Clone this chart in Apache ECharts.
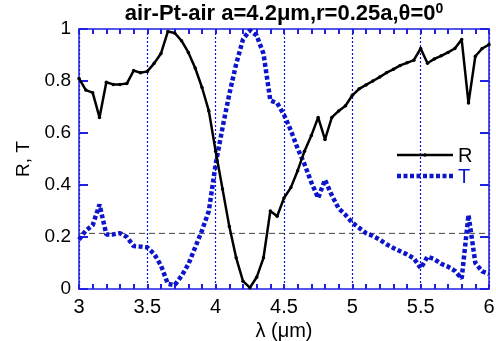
<!DOCTYPE html>
<html><head><meta charset="utf-8">
<script src="https://cdn.jsdelivr.net/npm/echarts@6/dist/echarts.min.js"></script>
<style>html,body{margin:0;padding:0;background:#fff}#c{width:496px;height:341px}</style>
</head><body><div id="c"></div>
<script>
const wavelength = [3.00,3.05,3.10,3.15,3.20,3.25,3.30,3.35,3.40,3.45,3.50,3.55,3.60,3.65,3.70,3.75,3.80,3.85,3.90,3.95,
4.00,4.05,4.10,4.15,4.20,4.25,4.30,4.35,4.40,4.45,4.50,4.55,4.60,4.65,4.70,4.75,4.80,4.85,4.90,4.95,
5.00,5.05,5.10,5.15,5.20,5.25,5.30,5.35,5.40,5.45,5.50,5.55,5.60,5.65,5.70,5.75,5.80,5.85,5.90,5.95,6.00];
const reflectance = [0.81,0.765,0.755,0.66,0.795,0.787,0.787,0.79,0.84,0.832,0.837,0.868,0.906,0.99,0.985,0.955,0.91,0.85,0.775,0.685,
0.53,0.385,0.24,0.12,0.03,0.005,0.045,0.12,0.30,0.28,0.35,0.39,0.455,0.53,0.59,0.66,0.575,0.66,0.685,0.705,
0.745,0.77,0.785,0.80,0.815,0.832,0.845,0.86,0.87,0.88,0.925,0.868,0.885,0.897,0.91,0.925,0.96,0.715,0.895,0.925,0.94];
const transmittance = [0.19,0.225,0.245,0.325,0.21,0.21,0.215,0.20,0.165,0.163,0.16,0.135,0.09,0.02,0.015,0.05,0.095,0.16,0.225,0.30,
0.48,0.62,0.75,0.865,0.96,0.995,0.975,0.905,0.725,0.715,0.67,0.61,0.54,0.48,0.41,0.35,0.42,0.36,0.31,0.285,
0.255,0.235,0.215,0.204,0.19,0.172,0.158,0.145,0.133,0.118,0.08,0.124,0.115,0.097,0.086,0.07,0.04,0.285,0.10,0.068,0.058];
const refLevel = 0.214;
const xTicks = [3,3.5,4,4.5,5,5.5,6];
const seriesNames = ['R','T'];

const AX = '#2020e0';
const BLUE = '#0c14cc';
const FONT = 'Liberation Sans, Arial, sans-serif';
const chart = echarts.init(document.getElementById('c'));
const pairs = (ys) => wavelength.map((x,i)=>[x, ys[i]]);
function xAxisCfg(extra){
  return Object.assign({
    type:'value',min:3,max:6,interval:0.5,
    axisLine:{show:true,onZero:false,lineStyle:{color:AX,width:1.5}},
    axisTick:{show:true,inside:true,length:5,lineStyle:{color:AX,width:2}},
    minorTick:{show:true,splitNumber:5,length:5,lineStyle:{color:AX,width:2}}
  }, extra);
}
function yAxisCfg(extra){
  return Object.assign({
    type:'value',min:0,max:1,interval:0.2,
    axisLine:{show:true,onZero:false,lineStyle:{color:AX,width:1.5}},
    axisTick:{show:true,inside:true,length:9,lineStyle:{color:AX,width:2}},
    splitLine:{show:false}
  }, extra);
}
chart.setOption({
  animation:false,
  grid:{left:79,right:7,top:29,bottom:52,containLabel:false,outerBoundsMode:'none'},
  xAxis:[xAxisCfg({
    name:'λ (μm)',nameLocation:'middle',nameGap:21,
    nameTextStyle:{fontFamily:FONT,fontSize:20,color:'#000'},
    axisLabel:{fontFamily:FONT,fontSize:20,color:'#000',margin:8,
      formatter:(v)=>xTicks.includes(v)?String(v):''},
    splitLine:{show:true,lineStyle:{color:BLUE,type:[2,2],width:1.2}}
  }),xAxisCfg({
    position:'top',axisLabel:{show:false},splitLine:{show:false},
    name:'{t|air-Pt-air a=4.2μm,r=0.25a,θ=0}{s|0}',nameLocation:'middle',nameGap:3,
    nameTextStyle:{rich:{
      t:{fontFamily:FONT,fontSize:22,fontWeight:'bold',color:'#000'},
      s:{fontFamily:FONT,fontSize:14,fontWeight:'bold',color:'#000',verticalAlign:'top',padding:[0,0,10,0]}
    }}
  })],
  yAxis:[yAxisCfg({
    name:'R, T',nameLocation:'middle',nameGap:43,
    nameTextStyle:{fontFamily:FONT,fontSize:19,color:'#000'},
    axisLabel:{fontFamily:FONT,fontSize:19,color:'#000',margin:8}
  }),yAxisCfg({
    position:'right',axisLabel:{show:false}
  })],
  graphic:[
    {type:'line',shape:{x1:397,y1:155,x2:453,y2:155},style:{stroke:'#000',lineWidth:2.5},z:10},
    {type:'circle',shape:{cx:425,cy:155,r:1.8},style:{fill:'#000'},z:10},
    {type:'text',style:{text:seriesNames[0],x:458,y:156,fill:'#000',font:'20px '+FONT,textVerticalAlign:'middle'},z:10},
    {type:'line',shape:{x1:397,y1:176,x2:453,y2:176},style:{stroke:BLUE,lineWidth:4.5,lineDash:[4,2.5]},z:10},
    {type:'text',style:{text:seriesNames[1],x:458,y:177,fill:BLUE,font:'20px '+FONT,textVerticalAlign:'middle'},z:10}
  ],
  series:[{
    name:'ref',type:'line',data:[[3,refLevel],[6,refLevel]],
    symbol:'none',silent:true,
    lineStyle:{color:'#444',type:[6,4],width:1},z:1
  },{
    name:seriesNames[0],type:'line',data:pairs(reflectance),
    symbol:'circle',symbolSize:3.5,showSymbol:true,
    itemStyle:{color:'#000'},lineStyle:{color:'#000',width:2.5},
    z:3
  },{
    name:seriesNames[1],type:'line',data:pairs(transmittance),
    symbol:'none',
    itemStyle:{color:BLUE},lineStyle:{color:BLUE,width:4.5,type:[4,2.5]},
    z:2
  }]
});
</script></body></html>
